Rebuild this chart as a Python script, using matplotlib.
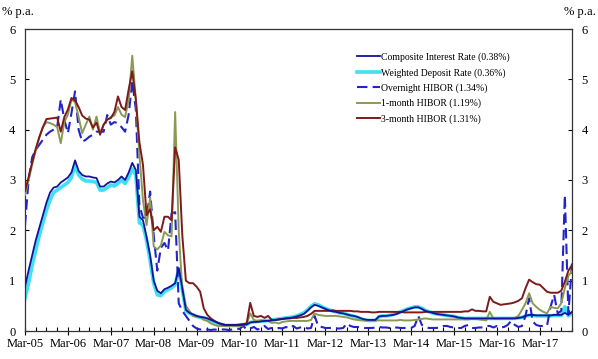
import matplotlib
matplotlib.use("Agg")
import matplotlib.pyplot as plt
import numpy as np

plt.rcParams['font.family'] = ['Liberation Serif', 'DejaVu Serif']

# Monthly data, Mar-05 .. Dec-17
tick_labels = ['Mar-05', 'Mar-06', 'Mar-07', 'Mar-08', 'Mar-09', 'Mar-10', 'Mar-11',
               'Mar-12', 'Mar-13', 'Mar-14', 'Mar-15', 'Mar-16', 'Mar-17']

composite = [0.88, 1.2, 1.5, 1.8, 2.05, 2.3, 2.55, 2.75, 2.85, 2.87,
             2.95, 3.0, 3.05, 3.15, 3.39, 3.18, 3.1, 3.07, 3.07, 3.05, 3.04, 2.87,
             2.87, 2.93, 2.97, 2.95, 3.0, 3.07, 3.0, 3.15, 3.34, 3.2, 2.27, 2.2,
             1.87, 1.5, 1.0, 0.8, 0.75, 0.83, 0.86, 0.9, 0.95, 1.25, 0.85, 0.42,
             0.36, 0.33, 0.3, 0.28, 0.27, 0.25, 0.22, 0.19, 0.16, 0.14, 0.12, 0.12,
             0.12, 0.12, 0.12, 0.12, 0.13, 0.17, 0.18, 0.18, 0.19, 0.2, 0.2, 0.21,
             0.22, 0.23, 0.24, 0.25, 0.26, 0.27, 0.29, 0.31, 0.34, 0.4, 0.47, 0.52,
             0.5, 0.47, 0.44, 0.41, 0.39, 0.38, 0.36, 0.35, 0.33, 0.31, 0.3, 0.28,
             0.25, 0.23, 0.22, 0.22, 0.22, 0.29, 0.3, 0.3, 0.31, 0.32, 0.34, 0.37,
             0.4, 0.43, 0.45, 0.47, 0.47, 0.44, 0.4, 0.38, 0.36, 0.34, 0.33, 0.32,
             0.31, 0.3, 0.29, 0.27, 0.26, 0.25, 0.25, 0.25, 0.25, 0.25, 0.25, 0.25,
             0.25, 0.25, 0.25, 0.25, 0.25, 0.25, 0.25, 0.25, 0.26, 0.27, 0.3, 0.32,
             0.32, 0.31, 0.31, 0.31, 0.31, 0.31, 0.32, 0.32, 0.32, 0.36, 0.32, 0.38]

deposit = [0.65, 0.95, 1.3, 1.6, 1.9, 2.15, 2.4, 2.6, 2.75, 2.8,
           2.85, 2.9, 2.95, 3.05, 3.3, 3.1, 3.02, 2.98, 2.98, 2.97, 2.95, 2.8,
           2.8, 2.85, 2.9, 2.88, 2.93, 3.0, 2.93, 3.05, 3.22, 3.1, 2.15, 2.1,
           1.8, 1.4, 0.95, 0.72, 0.7, 0.78, 0.82, 0.86, 0.92, 1.22, 0.82, 0.4,
           0.35, 0.32, 0.29, 0.27, 0.26, 0.24, 0.21, 0.18, 0.15, 0.13, 0.11, 0.11,
           0.11, 0.11, 0.11, 0.12, 0.13, 0.17, 0.18, 0.19, 0.2, 0.2, 0.21, 0.22,
           0.23, 0.24, 0.25, 0.26, 0.27, 0.28, 0.3, 0.33, 0.36, 0.42, 0.49, 0.54,
           0.52, 0.48, 0.45, 0.42, 0.4, 0.38, 0.36, 0.35, 0.33, 0.31, 0.29, 0.27,
           0.24, 0.22, 0.21, 0.21, 0.21, 0.28, 0.3, 0.3, 0.31, 0.33, 0.35, 0.38,
           0.41, 0.44, 0.46, 0.48, 0.48, 0.45, 0.41, 0.38, 0.36, 0.34, 0.33, 0.32,
           0.31, 0.3, 0.29, 0.27, 0.26, 0.25, 0.25, 0.25, 0.25, 0.25, 0.25, 0.25,
           0.25, 0.25, 0.25, 0.25, 0.25, 0.25, 0.25, 0.25, 0.26, 0.27, 0.3, 0.31,
           0.31, 0.3, 0.3, 0.3, 0.3, 0.3, 0.31, 0.31, 0.31, 0.48, 0.3, 0.36]

hibor_on = [2.1, 3.0, 3.45, 3.6, 3.7, 3.8, 3.9, 3.96, 4.0, 4.05,
            4.6, 4.2, 3.93, 4.33, 4.76, 4.0, 3.76, 3.8, 3.86, 3.9, 3.96, 3.96,
            3.96, 4.29, 4.1, 4.15, 4.13, 4.05, 3.96, 4.3, 4.96, 4.4, 2.5, 2.25,
            2.25, 2.77, 1.9, 1.2, 1.65, 1.75, 1.6, 2.34, 2.36, 0.55, 0.4, 0.3,
            0.2, 0.1, 0.05, 0.03, 0.04, 0.03, 0.02, 0.03, 0.02, 0.03, 0.03, 0.02,
            0.03, 0.05, 0.04, 0.1, 0.03, 0.05, 0.08, 0.03, 0.05, 0.1, 0.04, 0.06,
            0.03, 0.06, 0.05, 0.08, 0.05, 0.1, 0.05, 0.07, 0.09, 0.05, 0.06, 0.3,
            0.1, 0.08, 0.06, 0.06, 0.06, 0.05, 0.05, 0.06, 0.15, 0.1, 0.08, 0.08,
            0.07, 0.06, 0.06, 0.06, 0.07, 0.08, 0.07, 0.07, 0.06, 0.06, 0.07, 0.06,
            0.06, 0.06, 0.06, 0.1, 0.3, 0.12, 0.08, 0.06, 0.06, 0.06, 0.07, 0.1,
            0.1, 0.08, 0.07, 0.06, 0.06, 0.1, 0.12, 0.06, 0.06, 0.07, 0.07, 0.1,
            0.1, 0.07, 0.1, 0.07, 0.08, 0.12, 0.2, 0.12, 0.08, 0.1, 0.3, 0.65,
            0.19, 0.12, 0.1, 0.1, 0.1, 0.48, 0.72, 0.35, 0.4, 2.7, 0.35, 1.34]

hibor_1m = [2.7, 3.0, 3.3, 3.58, 3.85, 4.05, 4.15, 4.13, 4.1, 4.05,
            3.73, 4.15, 4.3, 4.6, 4.55, 4.25, 3.93, 4.1, 4.26, 4.0, 4.26, 3.93,
            4.1, 4.2, 4.25, 4.28, 4.45, 4.3, 4.25, 4.6, 5.47, 4.6, 3.5, 2.6,
            2.1, 2.65, 1.68, 1.62, 1.7, 1.97, 1.9, 1.88, 4.35, 2.0, 0.8, 0.5,
            0.4, 0.3, 0.28, 0.28, 0.22, 0.2, 0.15, 0.12, 0.1, 0.1, 0.1, 0.1,
            0.1, 0.1, 0.1, 0.11, 0.14, 0.35, 0.22, 0.2, 0.21, 0.2, 0.2, 0.16,
            0.17, 0.15, 0.18, 0.19, 0.2, 0.2, 0.2, 0.2, 0.2, 0.2, 0.22, 0.35,
            0.32, 0.31, 0.3, 0.3, 0.3, 0.3, 0.29, 0.28, 0.27, 0.25, 0.23, 0.22,
            0.21, 0.21, 0.21, 0.21, 0.21, 0.21, 0.21, 0.21, 0.21, 0.21, 0.21, 0.22,
            0.21, 0.21, 0.21, 0.22, 0.23, 0.24, 0.25, 0.24, 0.23, 0.23, 0.23, 0.23,
            0.23, 0.23, 0.23, 0.23, 0.23, 0.23, 0.23, 0.24, 0.24, 0.23, 0.22, 0.21,
            0.38, 0.25, 0.24, 0.25, 0.25, 0.25, 0.25, 0.26, 0.3, 0.42, 0.55, 0.75,
            0.55, 0.48, 0.42, 0.38, 0.35, 0.48, 0.46, 0.45, 0.55, 0.85, 1.1, 1.19]

hibor_3m = [2.78, 3.05, 3.35, 3.62, 3.85, 4.05, 4.21, 4.22, 4.23, 4.24,
            3.96, 4.25, 4.4, 4.63, 4.58, 4.45, 4.28, 4.22, 4.2, 4.04, 4.14, 3.9,
            4.1, 4.2, 4.23, 4.35, 4.66, 4.45, 4.39, 4.8, 5.16, 4.6, 3.75, 3.3,
            2.3, 2.42, 2.0, 2.07, 1.97, 2.27, 2.27, 2.2, 3.65, 3.4, 1.9, 1.0,
            0.95, 0.95, 0.88, 0.78, 0.45, 0.32, 0.25, 0.2, 0.16, 0.13, 0.12, 0.12,
            0.12, 0.12, 0.13, 0.14, 0.15, 0.56, 0.3, 0.28, 0.3, 0.26, 0.3, 0.22,
            0.22, 0.23, 0.24, 0.25, 0.25, 0.26, 0.26, 0.27, 0.28, 0.3, 0.34, 0.4,
            0.4, 0.4, 0.4, 0.4, 0.41, 0.4, 0.4, 0.4, 0.4, 0.4, 0.39, 0.39,
            0.38, 0.38, 0.38, 0.37, 0.37, 0.38, 0.38, 0.38, 0.38, 0.38, 0.38, 0.38,
            0.37, 0.37, 0.37, 0.37, 0.37, 0.37, 0.38, 0.38, 0.38, 0.38, 0.38, 0.38,
            0.38, 0.38, 0.38, 0.38, 0.38, 0.39, 0.39, 0.43, 0.4, 0.4, 0.39, 0.39,
            0.68, 0.58, 0.55, 0.52, 0.53, 0.54, 0.55, 0.57, 0.6, 0.65, 0.85, 1.02,
            0.97, 0.93, 0.92, 0.85, 0.78, 0.76, 0.76, 0.76, 0.8, 0.98, 1.2, 1.31]

labels = ['Composite Interest Rate (0.38%)', 'Weighted Deposit Rate (0.36%)',
          'Overnight HIBOR (1.34%)', '1-month HIBOR (1.19%)', '3-month HIBOR (1.31%)']

months = np.arange(len(composite))

fig = plt.figure(figsize=(5.98, 3.59), dpi=100)
ax = fig.add_axes([25/598, 1-331/359, (572-25)/598, (331-29)/359])

l_wdr, = ax.plot(months, deposit, color='#40E0F0', lw=2.6, label=labels[1], zorder=2)
l_on, = ax.plot(months, hibor_on, color='#2323C8', lw=1.5, ls=(0, (5, 2.5)), label=labels[2], zorder=3)
l_1m, = ax.plot(months, hibor_1m, color='#8A9A55', lw=1.4, label=labels[3], zorder=4)
l_3m, = ax.plot(months, hibor_3m, color='#7F1A1A', lw=1.4, label=labels[4], zorder=5)
l_cir, = ax.plot(months, composite, color='#12129E', lw=1.3, label=labels[0], zorder=6)

ax.set_xlim(0, 153)
ax.set_ylim(0, 6)
ax.set_xticks(np.arange(0, 145, 12))
ax.set_xticklabels(tick_labels, fontsize=9)
ax.set_xticks(np.arange(0, 154, 3), minor=True)
ax.tick_params(axis='x', which='major', direction='inout', length=6, width=0.8, pad=2)
ax.tick_params(axis='x', which='minor', direction='in', length=3, width=0.8)
ax.set_yticks(range(7))
ax.tick_params(axis='y', which='major', direction='in', length=3, width=0.8,
               labelsize=9, left=True, right=True, labelleft=True, labelright=True, pad=7)
for s in ax.spines.values():
    s.set_linewidth(0.9)
    s.set_color('#333333')

fig.text(2/598, 1-12/359, '% p.a.', fontsize=9, ha='left', va='center')
fig.text(596/598, 1-12/359, '% p.a.', fontsize=9, ha='right', va='center')

leg = ax.legend(handles=[l_cir, l_wdr, l_on, l_1m, l_3m], labels=labels,
                loc='upper left', bbox_to_anchor=(0.6, 0.935), frameon=False,
                fontsize=7, handlelength=2.4, handletextpad=0.1, labelspacing=0.6,
                borderaxespad=0)

fig.savefig('out.png', dpi=100)
